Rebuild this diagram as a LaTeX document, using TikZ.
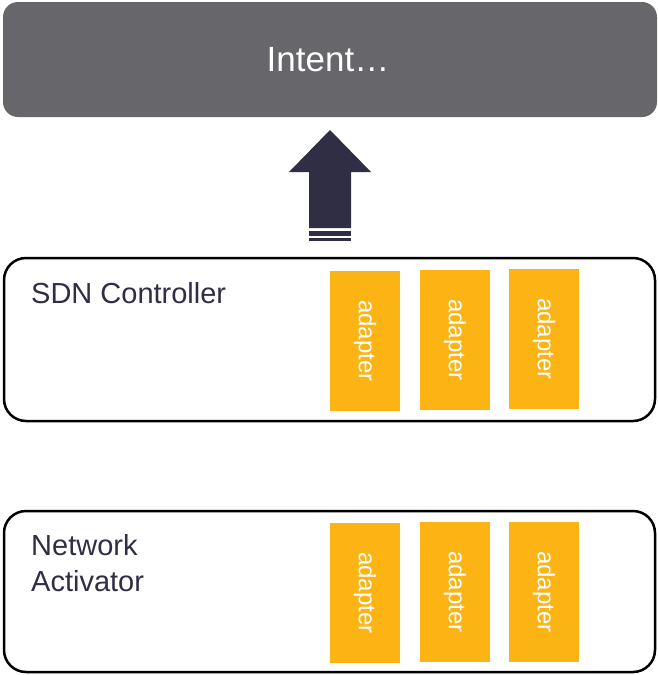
\documentclass[tikz,border=0pt]{standalone}
\usepackage{fontspec}
\setmainfont{Liberation Sans}
\definecolor{intentgray}{HTML}{67676B}
\definecolor{navy}{HTML}{302E45}
\definecolor{adapterorange}{HTML}{FCB415}
\tikzset{
  layerbox/.style={draw=black, line width=2.5pt, rounded corners=22pt, fill=white},
  adapterbox/.style={fill=adapterorange, draw=none},
  adaptertext/.style={text=white, rotate=-90, font=\fontsize{24}{28}\selectfont, inner sep=0pt},
  layertext/.style={text=navy, font=\fontsize{29}{36.7}\selectfont, inner sep=0pt, align=left},
}
\begin{document}
\begin{tikzpicture}[x=1pt, y=-1pt]
\useasboundingbox (0,0) rectangle (658,675);
% Intent
\fill[intentgray, rounded corners=15pt] (3,2) rectangle (657,117);
\node[text=white, font=\fontsize{35}{40}\selectfont, inner sep=0pt, anchor=base] (intent) at (328,71) {Intent…};
% arrow
\fill[navy] (330,130) -- (371,172) -- (351,172) -- (351,228) -- (309,228) -- (309,172) -- (289,172) -- cycle;
\fill[navy] (309,231) rectangle (351,236);
\fill[navy] (309,238) rectangle (351,241);
% SDN controller layer
\draw[layerbox] (4,258) rectangle (655,421);
\node[layertext, anchor=base west] (sdn) at (31,303) {SDN Controller};
\foreach \n/\x/\y in {a1/330/271, a2/420/270, a3/509/269} {
  \fill[adapterbox] (\x,\y) rectangle ++(70,140);
  \node[adaptertext] (\n) at (\x+35,\y+70) {adapter};
}
% Network activator layer
\draw[layerbox] (4,511) rectangle (655,672);
\node[layertext, anchor=base west] (na) at (31,591.7) {Network\\Activator};
\foreach \n/\x/\y in {b1/330/523, b2/420/522, b3/509/522} {
  \fill[adapterbox] (\x,\y) rectangle ++(70,140);
  \node[adaptertext] (\n) at (\x+35,\y+70) {adapter};
}
\end{tikzpicture}
\end{document}
